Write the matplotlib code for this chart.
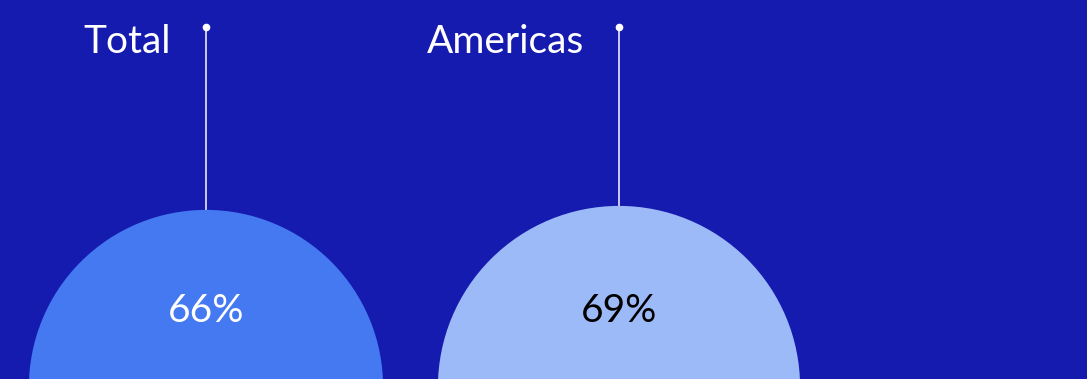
import matplotlib.pyplot as plt
from matplotlib.patches import Circle
import numpy as np

# data
regions = ['Total', 'Americas']
values = [66, 69]
bubble_colors = ['#4479f2', '#9dbaf8']
value_colors = ['white', 'black']

bg = '#161bb0'
W, H = 1087, 379

plt.rcParams['font.family'] = ['Lato', 'DejaVu Sans']

fig = plt.figure(figsize=(W / 100, H / 100), dpi=100)
fig.patch.set_facecolor(bg)
ax = fig.add_axes([0, 0, 1, 1])
ax.set_facecolor(bg)
ax.set_xlim(0, W)
ax.set_ylim(H, 0)
ax.set_aspect('equal')
ax.axis('off')

# bubble area proportional to value
scale = 21.8
x0, step = 206, 413
cy = H + 8
dot_y = 27

for i, (name, v) in enumerate(zip(regions, values)):
    cx = x0 + i * step
    r = scale * np.sqrt(v)
    ax.add_patch(Circle((cx, cy), r, color=bubble_colors[i], lw=0, zorder=2))
    # leader line with dot
    ax.plot([cx, cx], [dot_y, cy - r], color='#d8d8f4', lw=1.3, zorder=1)
    ax.plot(cx, dot_y, 'o', color='white', ms=4.5, zorder=3)
    ax.text(cx - 35, 53, name, color='white', fontsize=28,
            ha='right', va='baseline')
    ax.text(cx, 322, f'{v}%', color=value_colors[i], fontsize=28,
            ha='center', va='baseline', zorder=4)

fig.savefig('out.png', dpi=100, facecolor=bg)
